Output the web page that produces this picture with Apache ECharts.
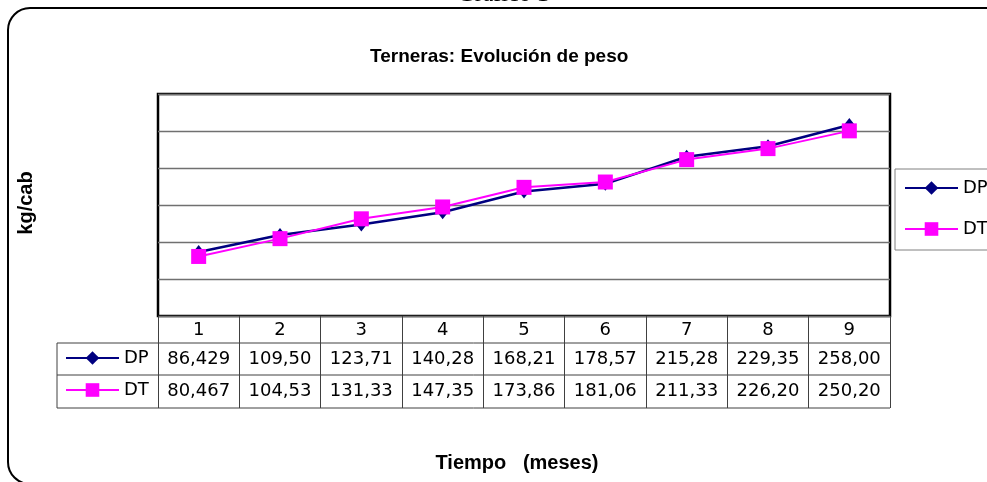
<!DOCTYPE html>
<html>
<head>
<meta charset="utf-8">
<script src="https://cdn.jsdelivr.net/npm/echarts@6/dist/echarts.min.js"></script>
<style>html,body{margin:0;padding:0;background:#fff;}#c{width:987px;height:482px;}</style>
</head>
<body>
<div id="c"></div>
<script>
const categories = ['1', '2', '3', '4', '5', '6', '7', '8', '9'];
const dpValues = [86.429, 109.50, 123.71, 140.28, 168.21, 178.57, 215.28, 229.35, 258.00];
const dtValues = [80.467, 104.53, 131.33, 147.35, 173.86, 181.06, 211.33, 226.20, 250.20];
const seriesNames = ['DP', 'DT'];
const yMin = 0, yMax = 300, yInterval = 50;
const chartTitle = 'Terneras: Evolución de peso';
const figureTitle = 'Gráfico 1';
const yTitle = 'kg/cab';
const xTitle = 'Tiempo   (meses)';

const fmt = v => v.toPrecision(5).replace('.', ',');
const SANS = '"Liberation Sans", Arial, sans-serif';
const TBL = '"DejaVu Sans", sans-serif';
const lineCol = '#404040';

const chart = echarts.init(document.getElementById('c'), null, {renderer: 'canvas'});

const G = {left: 158, top: 94, width: 732, height: 222};
const tblRows = [G.top + G.height, 343, 375, 408];
const tblLeft = 57;

const hLines = [1, 2, 3].map(i => ({
  type: 'line', silent: true, z: 5,
  shape: {x1: tblLeft, y1: tblRows[i], x2: G.left + G.width, y2: tblRows[i]},
  style: {stroke: lineCol, lineWidth: 1}
}));

const legendCommon = {
  data: seriesNames, orient: 'vertical', itemWidth: 53, itemHeight: 17,
  selectedMode: false, lineStyle: {width: 2},
  textStyle: {fontFamily: TBL, fontSize: 18, color: '#000'}
};

chart.setOption({
  animation: false,
  backgroundColor: '#fff',
  title: {
    text: chartTitle, left: 370, top: 47, padding: 0,
    textStyle: {fontFamily: SANS, fontSize: 19, fontWeight: 'bold', color: '#000'}
  },
  grid: {left: G.left, top: G.top, width: G.width, height: G.height, show: true,
         borderColor: '#000', borderWidth: 2.5, backgroundColor: 'transparent'},
  legend: [
    Object.assign({}, legendCommon, {
      left: 895, top: 169, padding: [10, 40, 12, 9], itemGap: 23,
      borderColor: '#808080', borderWidth: 1
    }),
    Object.assign({}, legendCommon, {
      left: 65, top: 349, padding: 0, itemGap: 14
    })
  ],
  xAxis: [
    {
      type: 'category', data: categories, boundaryGap: true, gridIndex: 0,
      axisLine: {show: false},
      axisTick: {show: true, interval: 0, length: tblRows[3] - tblRows[0], lineStyle: {color: lineCol, width: 1}},
      axisLabel: {show: true, interval: 0, margin: 5, fontFamily: TBL, fontSize: 18, color: '#000'},
      splitLine: {show: false}
    },
    {
      type: 'category', data: categories, boundaryGap: true, gridIndex: 0, position: 'bottom',
      offset: tblRows[1] - tblRows[0],
      axisLine: {show: false}, axisTick: {show: false}, splitLine: {show: false},
      axisLabel: {interval: 0, margin: 7, fontFamily: TBL, fontSize: 18, color: '#000',
                  formatter: (v, i) => fmt(dpValues[i])}
    },
    {
      type: 'category', data: categories, boundaryGap: true, gridIndex: 0, position: 'bottom',
      offset: tblRows[2] - tblRows[0],
      axisLine: {show: false}, axisTick: {show: false}, splitLine: {show: false},
      axisLabel: {interval: 0, margin: 7, fontFamily: TBL, fontSize: 18, color: '#000',
                  formatter: (v, i) => fmt(dtValues[i])}
    }
  ],
  yAxis: {
    type: 'value', min: yMin, max: yMax, interval: yInterval,
    axisLine: {show: false}, axisTick: {show: false}, axisLabel: {show: false},
    splitLine: {show: true, lineStyle: {color: '#707070', width: 1.3}}
  },
  series: [
    {
      name: seriesNames[0], type: 'line', data: dpValues, xAxisIndex: 0,
      symbol: 'diamond', symbolSize: [11, 14],
      lineStyle: {color: '#000080', width: 2.5},
      itemStyle: {color: '#000080'}, z: 3
    },
    {
      name: seriesNames[1], type: 'line', data: dtValues, xAxisIndex: 0,
      symbol: 'rect', symbolSize: 15,
      lineStyle: {color: '#FF00FF', width: 2},
      itemStyle: {color: '#FF00FF'}, z: 4
    }
  ],
  graphic: [
    {type: 'rect', silent: true, z: 0,
     shape: {x: 8, y: 8, width: 1000, height: 476, r: 22},
     style: {fill: 'none', stroke: '#000', lineWidth: 2}},
    {type: 'text', silent: true, x: 503, y: 7,
     style: {text: figureTitle, font: '24px "Liberation Serif", serif', fill: '#000',
             textAlign: 'center', textVerticalAlign: 'bottom'}},
    {type: 'text', silent: true, x: 26, y: 203, rotation: Math.PI / 2,
     style: {text: yTitle, font: 'bold 20px ' + SANS, fill: '#000',
             textAlign: 'center', textVerticalAlign: 'middle'}},
    {type: 'text', silent: true, x: 517, y: 463,
     style: {text: xTitle, font: 'bold 20px ' + SANS, fill: '#000',
             textAlign: 'center', textVerticalAlign: 'middle'}},
    {type: 'line', silent: true, z: 5,
     shape: {x1: tblLeft, y1: tblRows[1], x2: tblLeft, y2: tblRows[3]},
     style: {stroke: lineCol, lineWidth: 1}}
  ].concat(hLines)
});
</script>
</body>
</html>
